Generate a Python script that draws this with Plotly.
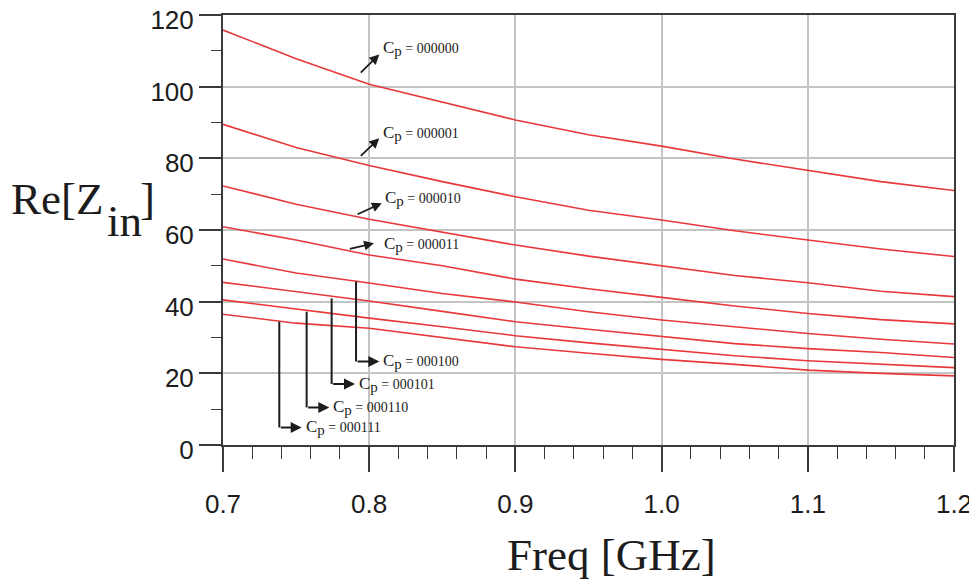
import plotly.graph_objects as go

# ---------------- data ----------------
freq = [0.70, 0.75, 0.80, 0.85, 0.90, 0.95, 1.00, 1.05, 1.10, 1.15, 1.20]

cp_000000 = [115.8, 107.8, 100.7, 95.6, 90.7, 86.6, 83.4, 79.8, 76.6, 73.5, 71.0]
cp_000001 = [89.5, 83.0, 78.0, 73.5, 69.3, 65.5, 62.8, 59.8, 57.2, 54.7, 52.6]
cp_000010 = [72.3, 67.2, 63.0, 59.5, 55.8, 52.7, 50.0, 47.3, 45.3, 42.9, 41.4]
cp_000011 = [60.9, 57.2, 53.0, 50.0, 46.3, 43.6, 41.2, 38.8, 36.7, 35.0, 33.8]
cp_000100 = [51.9, 48.0, 45.2, 42.3, 39.9, 37.2, 34.9, 33.0, 31.1, 29.5, 28.2]
cp_000101 = [45.4, 42.9, 40.2, 37.3, 34.4, 32.3, 30.2, 28.3, 26.9, 25.8, 24.4]
cp_000110 = [40.5, 37.9, 35.4, 33.0, 30.5, 28.5, 26.7, 24.9, 23.5, 22.5, 21.6]
cp_000111 = [36.5, 34.0, 32.6, 30.0, 27.4, 25.6, 23.9, 22.5, 20.9, 20.0, 19.3]

cp_labels = ["000000", "000001", "000010", "000011",
             "000100", "000101", "000110", "000111"]
series = [cp_000000, cp_000001, cp_000010, cp_000011,
          cp_000100, cp_000101, cp_000110, cp_000111]

x_ticks = [0.7, 0.8, 0.9, 1.0, 1.1, 1.2]
x_ticktext = ["0.7", "0.8", "0.9", "1.0", "1.1", "1.2"]
y_ticks = [0, 20, 40, 60, 80, 100, 120]

# ---------------- label placement (data coords) ----------------
# straight arrows: tail_x, tail_y, head_x, head_y, text_x, text_y
straight_pos = [
    (0.7932, 103.5, 0.8069, 109.0, 0.8078, 110.6),
    (0.7932, 80.3, 0.8069, 85.6, 0.8078, 86.9),
    (0.7910, 64.2, 0.8086, 67.5, 0.8092, 68.8),
    (0.7857, 54.6, 0.8033, 56.3, 0.8090, 55.9),
]
# elbow arrows: x, top_y, bottom_y, head_x, text_x
elbow_pos = [
    (0.7910, 45.6, 23.3, 0.8069, 0.8083),
    (0.7743, 40.9, 17.0, 0.7903, 0.7917),
    (0.7572, 37.2, 10.5, 0.7727, 0.7741),
    (0.7385, 34.4, 4.9, 0.7538, 0.7552),
]

RED = "#e8383b"
INK = "#1c1c1c"
SERIF = "Liberation Serif, DejaVu Serif, serif"
SANS = "Liberation Sans, Arial, sans-serif"

fig = go.Figure()
for lab, vals in zip(cp_labels, series):
    fig.add_trace(go.Scatter(x=freq, y=vals, mode="lines", name=lab,
                             line=dict(color=RED, width=1.6),
                             showlegend=False, hoverinfo="skip"))

annotations = []
shapes = []

def label_text(code):
    return ('<span style="font-size:17px">C</span>'
            '<sub><span style="font-size:15px">p</span></sub> = ' + code)

for i, (tx, ty, hx, hy, lx, ly) in enumerate(straight_pos):
    annotations.append(dict(x=hx, y=hy, ax=tx, ay=ty, xref="x", yref="y",
                            axref="x", ayref="y", text="", showarrow=True,
                            arrowhead=2, arrowsize=1.1, arrowwidth=1.8,
                            arrowcolor=INK, standoff=0, startstandoff=0))
    annotations.append(dict(x=lx, y=ly, xref="x", yref="y", text=label_text(cp_labels[i]),
                            showarrow=False, xanchor="left", yanchor="middle",
                            font=dict(family=SERIF, size=14, color=INK)))

for j, (ex, ty, by, hx, lx) in enumerate(elbow_pos):
    shapes.append(dict(type="line", xref="x", yref="y", x0=ex, x1=ex, y0=ty, y1=by,
                       line=dict(color=INK, width=2)))
    annotations.append(dict(x=hx, y=by, ax=ex, ay=by, xref="x", yref="y",
                            axref="x", ayref="y", text="", showarrow=True,
                            arrowhead=2, arrowsize=1.1, arrowwidth=2,
                            arrowcolor=INK, standoff=0, startstandoff=0))
    annotations.append(dict(x=lx, y=by, xref="x", yref="y", text=label_text(cp_labels[4 + j]),
                            showarrow=False, xanchor="left", yanchor="middle",
                            font=dict(family=SERIF, size=14, color=INK)))

# The page body has an 8px margin, so the figure is drawn at (8, 8).
OFF = 8
W, H = 977 - OFF, 585 - OFF
PLOT_X0, PLOT_X1, PLOT_Y0, PLOT_Y1 = 223, 954, 15, 445   # screen pixels
L = PLOT_X0 - OFF
T = PLOT_Y0 - OFF
R = W - (PLOT_X1 - OFF)
B = H - (PLOT_Y1 - OFF)
PW, PH = PLOT_X1 - PLOT_X0, PLOT_Y1 - PLOT_Y0

def px(xs):
    return (xs - PLOT_X0) / PW

def py(ys):
    return (PLOT_Y1 - ys) / PH

title_font = dict(family=SERIF, size=45, color=INK)
annotations += [
    dict(x=px(611), y=py(555), xref="paper", yref="paper", text="Freq [GHz]",
         showarrow=False, xanchor="center", yanchor="middle", font=title_font),
    dict(x=px(9), y=py(199), xref="paper", yref="paper", text="Re[Z",
         showarrow=False, xanchor="left", yanchor="middle", font=title_font),
    dict(x=px(105), y=py(221), xref="paper", yref="paper", text="in",
         showarrow=False, xanchor="left", yanchor="middle", font=title_font),
    dict(x=px(138), y=py(199), xref="paper", yref="paper", text="]",
         showarrow=False, xanchor="left", yanchor="middle", font=title_font),
]

fig.update_layout(
    width=W, height=H,
    margin=dict(l=L, r=R, t=T, b=B, autoexpand=False),
    paper_bgcolor="white", plot_bgcolor="white",
    annotations=annotations, shapes=shapes,
    showlegend=False,
)

fig.update_xaxes(
    range=[0.7, 1.2], tickvals=x_ticks, ticktext=x_ticktext,
    automargin=False, ticklabeloverflow="allow",
    showgrid=True, gridcolor="#c4c4c4", gridwidth=1.5,
    showline=True, linecolor="#3a3a3a", linewidth=2, mirror=True,
    ticks="outside", ticklen=25, tickwidth=1.5, tickcolor="#3a3a3a",
    tickfont=dict(family=SANS, size=26, color=INK),
    ticklabelstandoff=10,
    minor=dict(dtick=0.02, ticks="outside", ticklen=12, tickwidth=1.3,
               tickcolor="#3a3a3a", showgrid=False),
    zeroline=False,
)
fig.update_yaxes(
    range=[0, 120], tickvals=y_ticks,
    automargin=False, ticklabeloverflow="allow",
    ticklabelshift=5,
    showgrid=True, gridcolor="#c4c4c4", gridwidth=1.5,
    showline=True, linecolor="#3a3a3a", linewidth=2, mirror=True,
    ticks="outside", ticklen=22, tickwidth=1.5, tickcolor="#3a3a3a",
    tickfont=dict(family=SANS, size=26, color=INK),
    minor=dict(dtick=10, ticks="outside", ticklen=10, tickwidth=1.3,
               tickcolor="#3a3a3a", showgrid=False),
    zeroline=False,
)

fig.write_html("out.html")
